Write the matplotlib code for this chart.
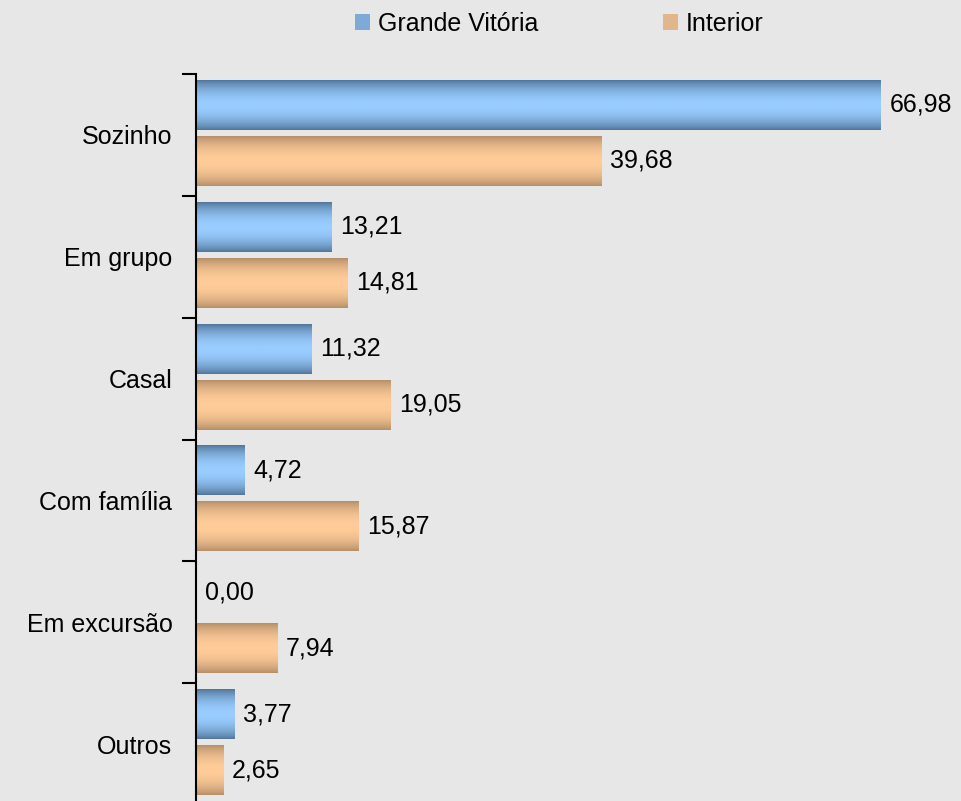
import numpy as np
import matplotlib
matplotlib.use("Agg")
import matplotlib.pyplot as plt
from matplotlib.colors import LinearSegmentedColormap
from matplotlib.patches import Rectangle

categories = ["Sozinho", "Em grupo", "Casal", "Com família", "Em excursão", "Outros"]
grande_vitoria = [66.98, 13.21, 11.32, 4.72, 0.00, 3.77]
interior = [39.68, 14.81, 19.05, 15.87, 7.94, 2.65]
series_names = ["Grande Vitória", "Interior"]

plt.rcParams['font.family'] = ['Liberation Sans', 'DejaVu Sans']

bg = '#e7e7e7'
blue_edge, blue_mid = '#52769a', '#99ccff'
orange_edge, orange_mid = '#b68f69', '#ffcc99'


def gradient_bar(ax, x0, width, yc, height, edge, mid):
    # cylinder-like shading: dark at top/bottom, light in the middle
    if width <= 0:
        return
    t = np.linspace(0, 1, 64)
    w = np.sin(np.pi * t) ** 0.8
    cmap = LinearSegmentedColormap.from_list('g', [edge, mid])
    img = w.reshape(-1, 1)
    ax.imshow(img, cmap=cmap, vmin=0, vmax=1, aspect='auto',
              extent=(x0, x0 + width, yc + height / 2, yc - height / 2),
              interpolation='bilinear', zorder=2)


fig = plt.figure(figsize=(9.61, 8.01), dpi=100)
fig.patch.set_facecolor(bg)
ax = fig.add_axes([196 / 961, -4 / 801, 1 - 196 / 961, (805 - 74) / 801])
ax.set_facecolor(bg)

n = len(categories)
bar_h = 50 / 122
off_blue = -30 / 122
off_orange = 26 / 122

for i in range(n):
    gradient_bar(ax, 0, grande_vitoria[i], i + off_blue, bar_h, blue_edge, blue_mid)
    gradient_bar(ax, 0, interior[i], i + off_orange, bar_h, orange_edge, orange_mid)
    ax.text(grande_vitoria[i] + 0.85, i + off_blue, f"{grande_vitoria[i]:.2f}".replace('.', ','),
            va='center', ha='left', fontsize=18, zorder=3)
    ax.text(interior[i] + 0.85, i + off_orange, f"{interior[i]:.2f}".replace('.', ','),
            va='center', ha='left', fontsize=18, zorder=3)

ax.set_xlim(0, 765 / (685 / 66.98))
ax.set_ylim(n - 0.5, -0.5)

for s in ['top', 'right', 'bottom']:
    ax.spines[s].set_visible(False)
ax.spines['left'].set_linewidth(1.5)
ax.set_xticks([])
ax.set_yticks(np.arange(n + 1) - 0.5)
ax.set_yticklabels([])
ax.tick_params(axis='y', which='major', length=10, width=1.5)
ax.set_yticks(np.arange(n), minor=True)
ax.set_yticklabels(categories, minor=True, fontsize=18)
ax.tick_params(axis='y', which='minor', length=0, pad=17)

handles = [Rectangle((0, 0), 1, 1, facecolor='#7fa9d6', edgecolor='none'),
           Rectangle((0, 0), 1, 1, facecolor='#e0b68a', edgecolor='none')]
fig.legend(handles, series_names, loc='center', bbox_to_anchor=(0.582, 0.970),
           ncol=2, frameon=False, fontsize=18, handlelength=0.6, handleheight=0.6,
           handletextpad=0.3, columnspacing=5.0)

fig.savefig('out.png', dpi=100, facecolor=bg)
